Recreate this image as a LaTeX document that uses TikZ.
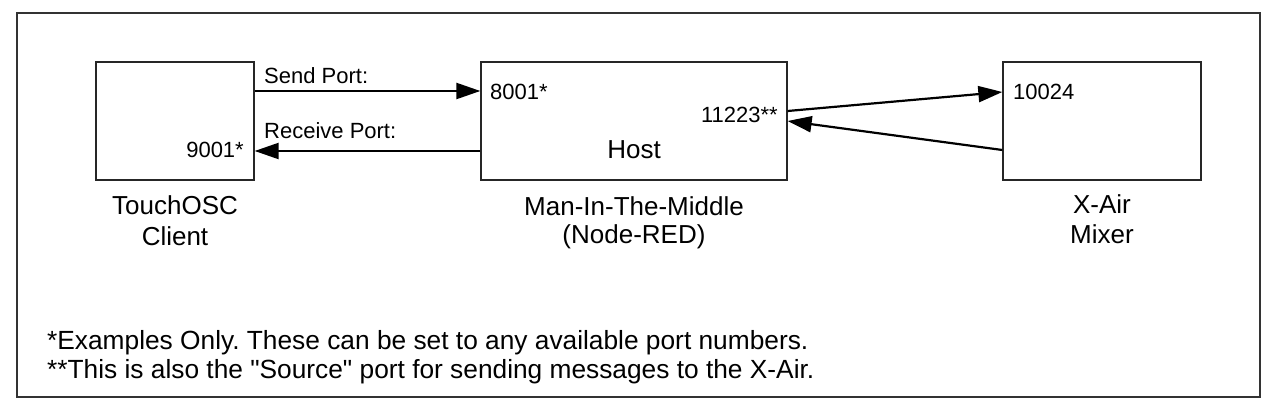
\documentclass[tikz,border=0pt]{standalone}
\usepackage{fontspec}
\setmainfont{Liberation Sans}
\usetikzlibrary{arrows.meta}
\frenchspacing
\newcommand\strquote{\XeTeXglyph\XeTeXglyphindex "quotedbl"\relax}
\begin{document}
\begin{tikzpicture}[x=1pt,y=-1pt,
  frame/.style={draw=black!80,line width=1.5pt},
  box/.style={draw=black!85,line width=1.3pt,minimum width=#1,minimum height=118pt,inner sep=0pt,anchor=center},
  lbl/.style={inner sep=0pt,font=\fontsize{22}{24}\selectfont},
  big/.style={inner sep=0pt,font=\fontsize{26}{28}\selectfont,anchor=base},
  foot/.style={inner sep=0pt,font=\fontsize{26.3}{28}\selectfont,anchor=base west},
  arr/.style={draw=black,line width=2.2pt,-{Triangle[length=24pt,width=16pt]}}]
\useasboundingbox (0,0) rectangle (1280,419);
\fill[white] (0,0) rectangle (1280,419);
\draw[frame] (17,13) rectangle (1260,397);
% boxes
\node[box=158pt] (client) at (175,121) {};
\node[box=306pt] (host) at (634,121) {};
\node[box=198pt] (mixer) at (1102,121) {};
% port labels
\node[lbl,anchor=base west] (sendlbl) at (264,84) {Send Port:};
\node[lbl,anchor=base west] (recvlbl) at (264,139) {Receive Port:};
\node[lbl,anchor=base east] (p9001) at (244,158) {9001*};
\node[lbl,anchor=base west] (p8001) at (490,100) {8001*};
\node[lbl,anchor=base east] (p11223) at (778,123) {11223**};
\node[lbl,anchor=base west] (p10024) at (1013,100) {10024};
\node[big] (hostlbl) at (634,159) {Host};
% captions
\node[big] (cap1a) at (175,215) {TouchOSC};
\node[big] (cap1b) at (175,246) {Client};
\node[big] (cap2a) at (634,216) {Man-In-The-Middle};
\node[big] (cap2b) at (634,244) {(Node-RED)};
\node[big] (cap3a) at (1102,214) {X-Air};
\node[big] (cap3b) at (1102,244) {Mixer};
% footer
\node[foot] (foot1) at (47,350) {*Examples Only. These can be set to any available port numbers.};
\node[foot] (foot2) at (47,379) {**This is also the \strquote Source\strquote{} port for sending messages to the X-Air.};
% connector levels
\coordinate (ysend) at (0,91);
\coordinate (yrecv) at (0,151);
\coordinate (yhout) at (0,111);
\coordinate (ymin) at (0,92);
\coordinate (ymout) at (0,150);
\coordinate (yhin) at (0,121);
\draw[arr] (client.east |- ysend) -- (host.west |- ysend);
\draw[arr] (host.west |- yrecv) -- (client.east |- yrecv);
\draw[arr] (host.east |- yhout) -- (mixer.west |- ymin);
\draw[arr] (mixer.west |- ymout) -- (host.east |- yhin);
\end{tikzpicture}
\end{document}
